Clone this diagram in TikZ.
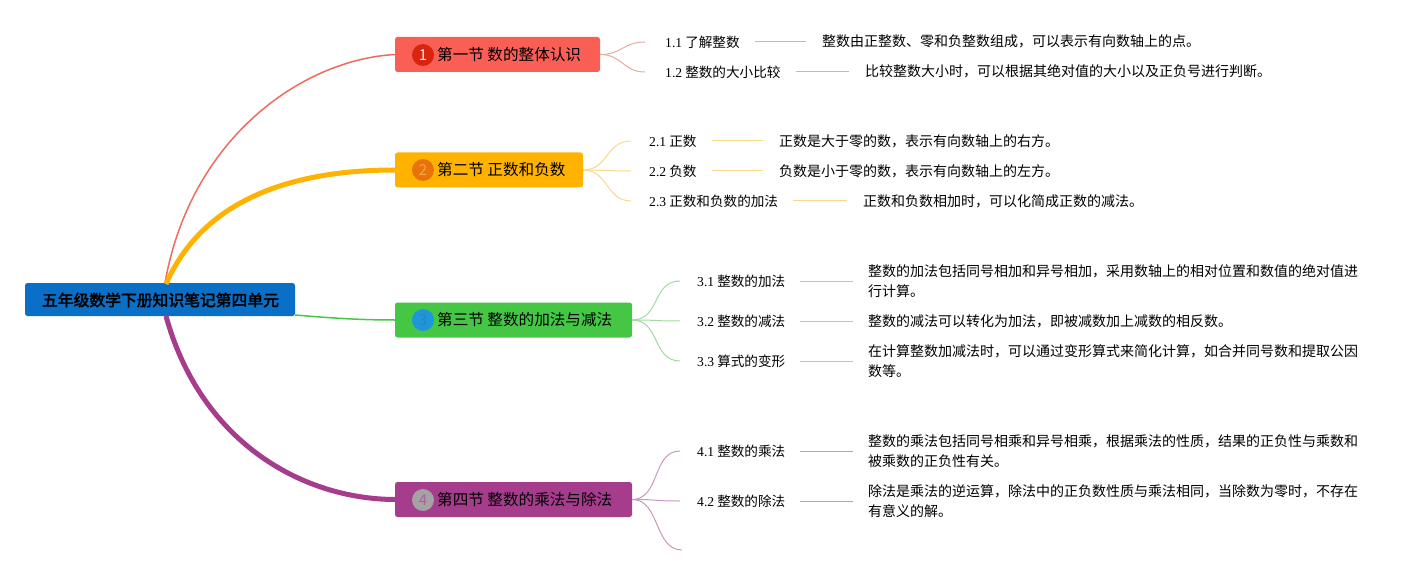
\documentclass[tikz,border=0pt]{standalone}
\usepackage{fontspec}
\setmainfont{Noto Sans CJK SC}
\newfontfamily\latn{Liberation Serif}
\newfontfamily\cjkb{Noto Sans CJK SC}[FakeBold=2.5]
\definecolor{rootc}{HTML}{0A6FC6}
\definecolor{redA}{HTML}{FA5F55}
\definecolor{redC}{HTML}{D9250F}
\definecolor{redL}{HTML}{F06A5E}
\definecolor{redT}{HTML}{E9A9A2}
\definecolor{orA}{HTML}{FFB300}
\definecolor{orC}{HTML}{E8730C}
\definecolor{orN}{HTML}{F7A640}
\definecolor{orT}{HTML}{F8D88A}
\definecolor{grA}{HTML}{45C745}
\definecolor{grC}{HTML}{1E96DC}
\definecolor{grN}{HTML}{2A86B8}
\definecolor{grT}{HTML}{9FDB9F}
\definecolor{puA}{HTML}{A53C8C}
\definecolor{puC}{HTML}{A3A3A3}
\definecolor{puN}{HTML}{B0609E}
\definecolor{puT}{HTML}{C898BF}
\tikzset{
  secbox/.style={rounded corners=2.5pt, inner sep=0pt, minimum height=35pt},
  numc/.style={circle, inner sep=0pt, minimum size=22pt, font=\fontsize{15}{15}\selectfont},
  sectxt/.style={anchor=west, inner sep=0pt, font=\fontsize{15.6}{18}\selectfont},
  lbl/.style={anchor=west, inner sep=0pt, font=\fontsize{13.6}{16}\selectfont},
  dsc/.style={anchor=west, inner sep=0pt, align=left, font=\fontsize{14}{20}\selectfont},
  tw/.style={line width=1pt},
}
\newcommand{\nm}[1]{{\latn #1}}
\begin{document}
\begin{tikzpicture}[x=1pt,y=-1pt]
\useasboundingbox (0,0) rectangle (1428,575);
% root
\node[rounded corners=2.5pt, fill=rootc, minimum width=270pt, minimum height=33pt, inner sep=0pt] (root) at (160,299.5) {};
\node[inner sep=0pt, font=\cjkb\fontsize{15.8}{18}\selectfont] (roott) at (160.5,300) {五年级数学下册知识笔记第四单元};
% sections
\node[secbox, fill=redA, minimum width=205pt] (s1) at (497.5,54.5) {};
\node[numc, fill=redC, text=white!90!redA] (c1) at (423,55) {1};
\node[sectxt] (t1) at (437,55) {第一节 数的整体认识};
\node[secbox, fill=orA, minimum width=188pt] (s2) at (489,170) {};
\node[numc, fill=orC, text=orN] (c2) at (423,170) {2};
\node[sectxt] (t2) at (437,170) {第二节 正数和负数};
\node[secbox, fill=grA, minimum width=237pt] (s3) at (513.5,320) {};
\node[numc, fill=grC, text=grN] (c3) at (423,320) {3};
\node[sectxt] (t3) at (437,320) {第三节 整数的加法与减法};
\node[secbox, fill=puA, minimum width=237pt] (s4) at (513.5,499.5) {};
\node[numc, fill=puC, text=puN] (c4) at (423,500) {4};
\node[sectxt] (t4) at (437,500) {第四节 整数的乘法与除法};
% root connectors
\draw[redL, line width=1.5pt] (165,283) .. controls (190,140) and (300,60) .. (s1.west);
\draw[orA, line width=5pt] (166,284) .. controls (205,195) and (300,170) .. (s2.west);
\draw[grA, line width=1.5pt] (root.east |- 0,315) .. controls (330,318) and (360,320) .. (s3.west);
\draw[puA, line width=5pt] (166,316) .. controls (200,440) and (300,499) .. (s4.west);
% section 1 leaves
\node[lbl] (l11) at (665,42) {\nm{1.1} 了解整数};
\node[lbl] (l12) at (665,72) {\nm{1.2} 整数的大小比较};
\node[dsc] (d11) at (822,41) {整数由正整数、零和负整数组成，可以表示有向数轴上的点。};
\node[dsc] (d12) at (865,71) {比较整数大小时，可以根据其绝对值的大小以及正负号进行判断。};
\foreach \i in {11,12}{
  \draw[redT, tw] (s1.east) .. controls +(22,0) and +(-22,0) .. ([xshift=-20pt]l\i.west);
  \draw[redT, tw] ([xshift=15pt]l\i.east) -- ([xshift=-16pt]d\i.west |- l\i.east);
}
% section 2 leaves
\node[lbl] (l21) at (649,141) {\nm{2.1} 正数};
\node[lbl] (l22) at (649,171) {\nm{2.2} 负数};
\node[lbl] (l23) at (649,201) {\nm{2.3} 正数和负数的加法};
\node[dsc] (d21) at (779,141) {正数是大于零的数，表示有向数轴上的右方。};
\node[dsc] (d22) at (779,171) {负数是小于零的数，表示有向数轴上的左方。};
\node[dsc] (d23) at (863,201) {正数和负数相加时，可以化简成正数的减法。};
\foreach \i in {21,22,23}{
  \draw[orT, tw] (s2.east) .. controls +(25,0) and +(-25,0) .. ([xshift=-18pt]l\i.west);
  \draw[orT, tw] ([xshift=15pt]l\i.east) -- ([xshift=-16pt]d\i.west |- l\i.east);
}
% section 3 leaves
\node[lbl] (l31) at (697,281) {\nm{3.1} 整数的加法};
\node[lbl] (l32) at (697,321) {\nm{3.2} 整数的减法};
\node[lbl] (l33) at (697,361) {\nm{3.3} 算式的变形};
\node[dsc] (d31) at (868,281) {整数的加法包括同号相加和异号相加，采用数轴上的相对位置和数值的绝对值进\\行计算。};
\node[dsc] (d32) at (868,321) {整数的减法可以转化为加法，即被减数加上减数的相反数。};
\node[dsc] (d33) at (868,361) {在计算整数加减法时，可以通过变形算式来简化计算，如合并同号数和提取公因\\数等。};
\foreach \i in {31,32,33}{
  \draw[grT, tw] (s3.east) .. controls +(28,0) and +(-28,0) .. ([xshift=-17pt]l\i.west);
  \draw[grT, tw] ([xshift=15pt]l\i.east) -- ([xshift=-15pt]d\i.west |- l\i.east);
}
% section 4 leaves
\node[lbl] (l41) at (697,451) {\nm{4.1} 整数的乘法};
\node[lbl] (l42) at (697,501) {\nm{4.2} 整数的除法};
\coordinate (l43) at (682,550);
\node[dsc] (d41) at (868,451) {整数的乘法包括同号相乘和异号相乘，根据乘法的性质，结果的正负性与乘数和\\被乘数的正负性有关。};
\node[dsc] (d42) at (868,501) {除法是乘法的逆运算，除法中的正负数性质与乘法相同，当除数为零时，不存在\\有意义的解。};
\foreach \i in {41,42}{
  \draw[puT, tw] (s4.east) .. controls +(28,0) and +(-28,0) .. ([xshift=-17pt]l\i.west);
  \draw[puT, tw] ([xshift=15pt]l\i.east) -- ([xshift=-15pt]d\i.west |- l\i.east);
}
\draw[puT, tw] (s4.east) .. controls +(28,0) and +(-28,0) .. (l43);
\end{tikzpicture}
\end{document}
